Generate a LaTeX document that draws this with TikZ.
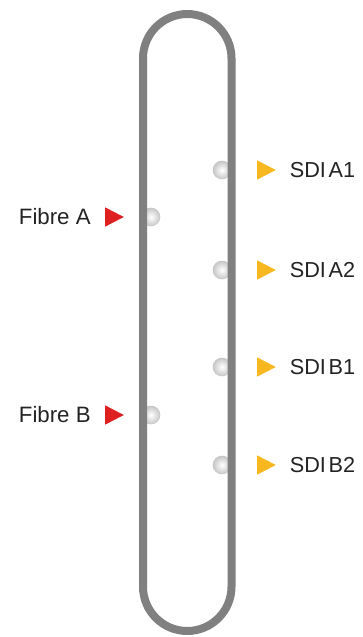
\documentclass[tikz,border=0pt]{standalone}
\usepackage{fontspec}
\setmainfont{Liberation Sans}
\definecolor{pillgray}{RGB}{128,128,128}
\definecolor{fibrered}{RGB}{222,32,32}
\definecolor{sdiyellow}{RGB}{246,184,30}
\definecolor{labelgray}{RGB}{35,35,35}
\usetikzlibrary{positioning,shapes.geometric}

\begin{document}
\begin{tikzpicture}[x=0.03cm, y=-0.03cm,
  port/.style={circle, inner sep=0pt, minimum size=0.56cm, shading=radial, inner color=white, outer color=gray!45},
  fibretip/.style={isosceles triangle, isosceles triangle apex angle=58, isosceles triangle stretches,
                   fill=fibrered, inner sep=0pt, minimum width=0.58cm, minimum height=0.56cm},
  sditip/.style={isosceles triangle, isosceles triangle apex angle=58, isosceles triangle stretches,
                 fill=sdiyellow, inner sep=0pt, minimum width=0.58cm, minimum height=0.56cm},
  lbl/.style={font=\fontsize{19}{22}\selectfont, text=labelgray, inner sep=0pt},
  sdilbl/.style={font={\fontsize{18.5}{22}\selectfont\spaceskip=0.12em\relax}, text=labelgray, inner sep=0pt}]

\useasboundingbox (0,0) rectangle (363,637);

% === ports on the loop ===
\node[port] (pfa) at (151,217) {};
\node[port] (pfb) at (151,415) {};
\node[port] (pa1) at (222,170) {};
\node[port] (pa2) at (222,270) {};
\node[port] (pb1) at (222,367) {};
\node[port] (pb2) at (222,465) {};

% === loop ===
\draw[pillgray, line width=0.24cm, rounded corners=1.33cm] (143,14) rectangle (231.5,631);

% === inputs (left) ===
\node[fibretip] (tfa) at (111,217) {};
\node[fibretip] (tfb) at (111,415) {};
\node[lbl, left=0.42cm of tfa] (lfa) {Fibre A};
\node[lbl, left=0.42cm of tfb] (lfb) {Fibre B};

% === outputs (right) ===
\node[sditip] (ta1) at (263,170) {};
\node[sditip] (ta2) at (263,270) {};
\node[sditip] (tb1) at (263,367) {};
\node[sditip] (tb2) at (263,465) {};
\node[sdilbl, right=0.4cm of ta1] (la1) {SDI A1};
\node[sdilbl, right=0.4cm of ta2] (la2) {SDI A2};
\node[sdilbl, right=0.4cm of tb1] (lb1) {SDI B1};
\node[sdilbl, right=0.4cm of tb2] (lb2) {SDI B2};

\end{tikzpicture}
\end{document}
